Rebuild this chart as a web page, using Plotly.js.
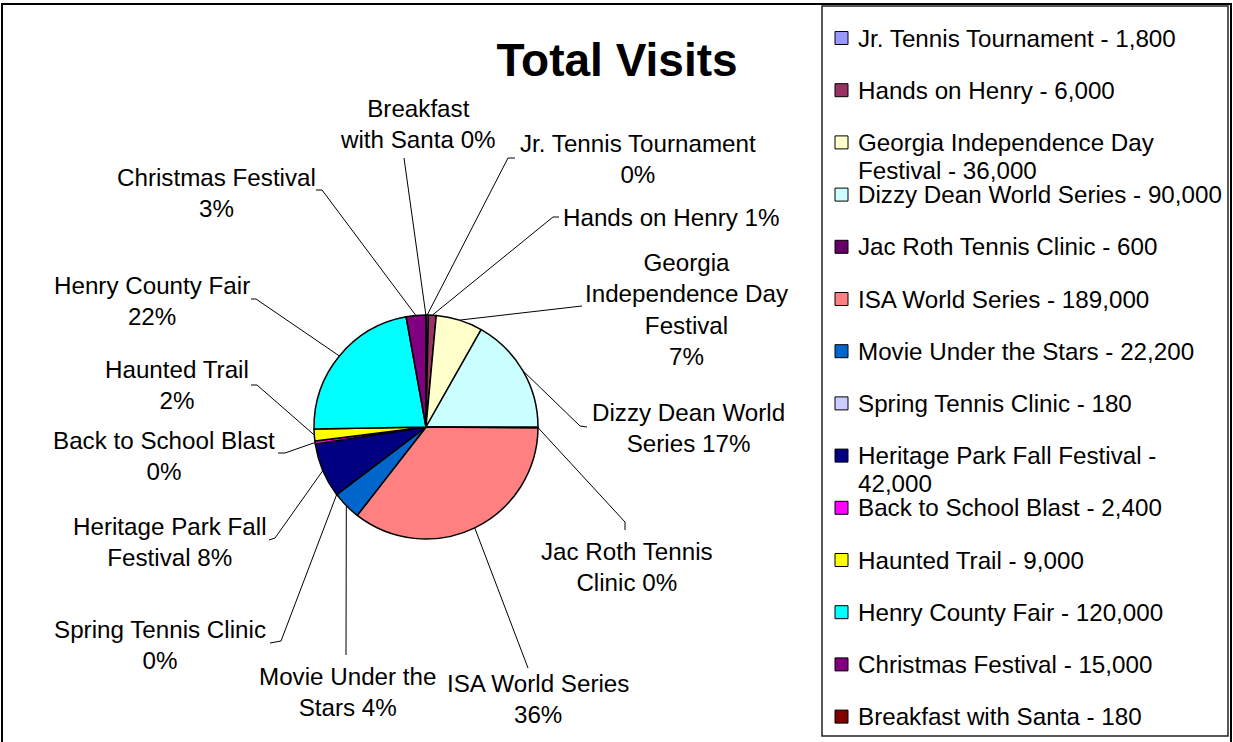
<!DOCTYPE html>
<html><head><meta charset="utf-8">
<script src="https://cdn.plot.ly/plotly-3.0.1.min.js"></script>
<style>html,body{margin:0;padding:0;background:#fff}#chart{width:1233px;height:742px}</style>
</head><body><div id="chart"></div>
<script>
// ---------- data ----------
const labels = ['Jr. Tennis Tournament','Hands on Henry','Georgia Independence Day Festival','Dizzy Dean World Series','Jac Roth Tennis Clinic','ISA World Series','Movie Under the Stars','Spring Tennis Clinic','Heritage Park Fall Festival','Back to School Blast','Haunted Trail','Henry County Fair','Christmas Festival','Breakfast with Santa'];
const visits = [1800, 6000, 36000, 90000, 600, 189000, 22200, 180, 42000, 2400, 9000, 120000, 15000, 180];
const pctShown = [0, 1, 7, 17, 0, 36, 4, 0, 8, 0, 2, 22, 3, 0];
const colors = ['#9999FF','#993366','#FFFFCC','#CCFFFF','#660066','#FF8080','#0066CC','#CCCCFF','#000080','#FF00FF','#FFFF00','#00FFFF','#800080','#800000'];
const chartTitle = 'Total Visits';

// ---------- layout / positions ----------
const W = 1233, H = 742;
const FONT = '"Liberation Sans", Arial, sans-serif';
const FS = 24.2;
const pieCx = 426, pieCy = 427, pieR = 112;
const labelPos = [[638,159],[671,217],[687,309],[688,428],[627,567],[538,699],[347,692],[160,645],[170,542],[164,456],[177,385],[152,301],[216,193],[418,124]];
const labelBreaks = [[3],[],[1,3,4],[3],[3],[3],[3],[3],[3],[4],[2],[3],[2],[1]];
const leaderPts = [
  [[508,158],[515,158]],
  [[553,217],[559,217]],
  [[582,306]],
  [[580,426],[587,427]],
  [[625,522],[625,530]],
  [[528,668]],
  [[346,655]],
  [[281,641],[270,643]],
  [[275,538],[269,540]],
  [[285,453],[278,453]],
  [[257,385],[251,385]],
  [[256,299],[251,299]],
  [[322,190],[316,190]],
  [[404,158]]
];
const legendBox = [822, 6, 1228, 736];
const legendFirstY = 38, legendStep = 52.2, legendLineGap = 28, legendSwatchX = 835, legendTextX = 857, swatch = 13;

// ---------- derived ----------
const total = visits.reduce((a,b)=>a+b,0);
let cum = 0;
const mids = visits.map(v => { const m = (cum + v/2) / total * 360; cum += v; return m; });

function wrapWords(text, breaks){
  const w = text.split(' ');
  let out = '';
  w.forEach((word,i)=>{ out += word; if(i < w.length-1) out += breaks.includes(i+1) ? '<br>' : ' '; });
  return out;
}
function wrapLen(text, maxLen){
  const w = text.split(' '); const lines=[]; let cur='';
  w.forEach(word=>{ const t = cur ? cur+' '+word : word; if(t.length > maxLen && cur){ lines.push(cur); cur = word; } else cur = t; });
  if(cur) lines.push(cur);
  return lines;
}

// leader lines
const lx = [], ly = [];
mids.forEach((m,i)=>{
  const a = m*Math.PI/180;
  lx.push(pieCx + pieR*Math.sin(a)); ly.push(pieCy - pieR*Math.cos(a));
  leaderPts[i].forEach(p=>{ lx.push(p[0]); ly.push(p[1]); });
  lx.push(null); ly.push(null);
});

const annotations = [];
labels.forEach((lab,i)=>{
  annotations.push({
    text: wrapWords(lab + ' ' + pctShown[i] + '%', labelBreaks[i]),
    x: labelPos[i][0], y: labelPos[i][1], xref:'x', yref:'y',
    xanchor:'center', yanchor:'middle', align:'center', showarrow:false,
    font:{family:FONT, size:FS, color:'#000'}
  });
});

const shapes = [];
// outer frame
shapes.push({type:'rect', xref:'x', yref:'y', x0:2, y0:4, x1:1231, y1:760, line:{color:'#000', width:2}, fillcolor:'rgba(0,0,0,0)'});
// legend box
shapes.push({type:'rect', xref:'x', yref:'y', x0:legendBox[0], y0:legendBox[1], x1:legendBox[2], y1:legendBox[3], line:{color:'#222', width:1.5}, fillcolor:'#fff', layer:'below'});
labels.forEach((lab,i)=>{
  const yc = legendFirstY + legendStep*i;
  shapes.push({type:'rect', xref:'x', yref:'y', x0:legendSwatchX, x1:legendSwatchX+swatch, y0:yc-swatch/2, y1:yc+swatch/2, fillcolor:colors[i], line:{color:'#000', width:1}});
  const lines = wrapLen(lab + ' - ' + visits[i].toLocaleString('en-US'), 32);
  lines.forEach((ln,k)=>{
    annotations.push({
      text: ln, x: legendTextX, y: yc + legendLineGap*k, xref:'x', yref:'y',
      xanchor:'left', yanchor:'middle', align:'left', showarrow:false, borderpad:0,
      font:{family:FONT, size:FS, color:'#000'}
    });
  });
});

const data = [
  {type:'scatter', mode:'lines', x:lx, y:ly, line:{color:'#000', width:1}, hoverinfo:'skip', showlegend:false, connectgaps:false},
  {type:'pie', labels:labels, values:visits, sort:false, direction:'clockwise', rotation:0,
   marker:{colors:colors, line:{color:'#000', width:1.5}}, textinfo:'none', showlegend:false,
   domain:{x:[(pieCx-pieR)/W,(pieCx+pieR)/W], y:[(H-pieCy-pieR)/H,(H-pieCy+pieR)/H]}}
];

const layout = {
  width: W, height: H,
  margin:{l:0,r:0,t:0,b:0,pad:0},
  paper_bgcolor:'#fff', plot_bgcolor:'rgba(0,0,0,0)',
  showlegend:false,
  title:{text:chartTitle, x:617/W, xref:'paper', xanchor:'center', y:1-60/H, yref:'paper', yanchor:'middle',
         font:{family:FONT, size:46, color:'#000', weight:700}},
  xaxis:{range:[0,W], visible:false, fixedrange:true},
  yaxis:{range:[H,0], visible:false, fixedrange:true},
  annotations: annotations,
  shapes: shapes
};

Plotly.newPlot('chart', data, layout, {displayModeBar:false, staticPlot:true});
</script>
</body></html>
